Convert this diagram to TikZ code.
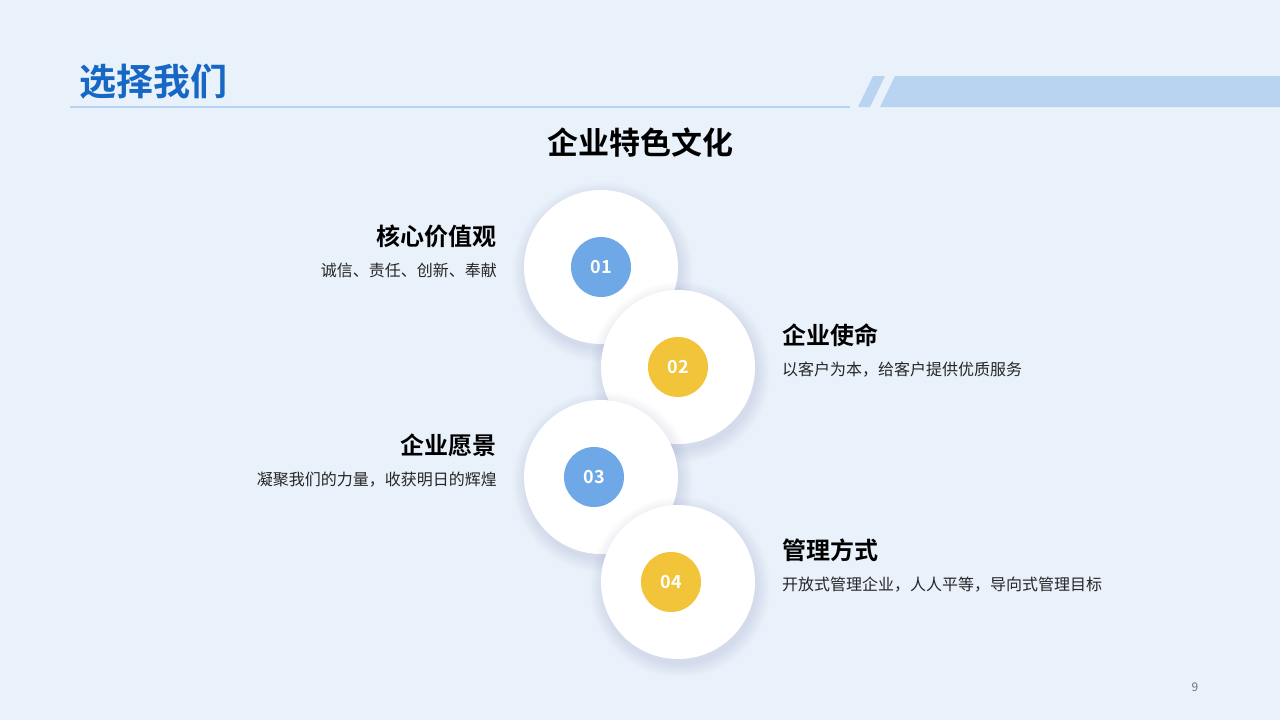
\documentclass[tikz,border=0pt]{standalone}
\usepackage{fontspec}
\setmainfont{Noto Sans CJK SC}[BoldFont={Noto Sans CJK SC Bold}]
\definecolor{bg}{HTML}{E9F1FA}
\definecolor{tblue}{HTML}{1668C4}
\definecolor{lblue}{HTML}{B8D4F1}
\definecolor{cblue}{HTML}{6FA8E6}
\definecolor{cyel}{HTML}{F2C43A}
\tikzset{
 big/.style={circle,fill=white,minimum size=154pt,inner sep=0pt},
 small/.style={circle,minimum size=60pt,inner sep=0pt,text=white,font=\bfseries\fontsize{18}{20}\selectfont},
 ttl/.style={font=\bfseries\fontsize{24}{27}\selectfont,inner sep=0pt},
 dsc/.style={font=\fontsize{16}{19}\selectfont,text=black!85,inner sep=0pt}
}
\newcommand{\bubble}[4]{%
 \foreach \r in {90,88,...,78}{\fill[black!60!blue,opacity=0.012] (#1+2,#2+5) circle (\r pt);}
 \node[big] (b#3) at (#1,#2) {};
}
\begin{document}
\begin{tikzpicture}[x=1pt,y=-1pt]
\fill[bg] (0,0) rectangle (1280,720);
\useasboundingbox (0,0) rectangle (1280,720);
\node[anchor=west,text=tblue,font=\bfseries\fontsize{37}{42}\selectfont,inner sep=0pt] (title) at (79,82) {选择我们};
\draw[lblue,line width=1.5pt] (70,107) -- (850,107);
\fill[lblue] (858,107) -- (873,76) -- (885,76) -- (870,107) -- cycle;
\fill[lblue] (880,107) -- (895,76) -- (1280,76) -- (1280,107) -- cycle;
\node[font=\bfseries\fontsize{31}{36}\selectfont,inner sep=0pt] (sub) at (640,143) {企业特色文化};
\bubble{601}{267}{1}{}
\node[small,fill=cblue] (n1) at (601,267) {01};
\bubble{678}{367}{2}{}
\node[small,fill=cyel] (n2) at (678,367) {02};
\bubble{601}{477}{3}{}
\node[small,fill=cblue] (n3) at (594,477) {03};
\bubble{678}{582}{4}{}
\node[small,fill=cyel] (n4) at (671,582) {04};
\node[ttl,anchor=east] (t1) at (497,236) {核心价值观};
\node[dsc,anchor=east] (d1) at (497,270) {诚信、责任、创新、奉献};
\node[ttl,anchor=west] (t2) at (782,335) {企业使命};
\node[dsc,anchor=west] (d2) at (782,370) {以客户为本，给客户提供优质服务};
\node[ttl,anchor=east] (t3) at (497,445) {企业愿景};
\node[dsc,anchor=east] (d3) at (497,480) {凝聚我们的力量，收获明日的辉煌};
\node[ttl,anchor=west] (t4) at (782,550) {管理方式};
\node[dsc,anchor=west] (d4) at (782,585) {开放式管理企业，人人平等，导向式管理目标};
\node[text=black!55,font=\fontsize{12}{14}\selectfont] (pg) at (1195,687) {9};
\end{tikzpicture}
\end{document}
